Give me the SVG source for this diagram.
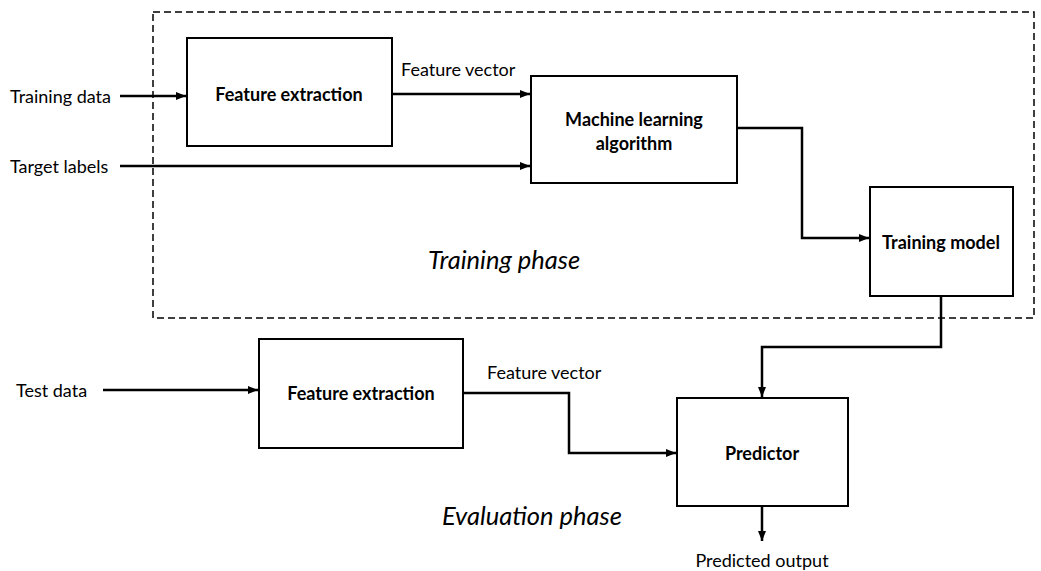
<svg xmlns="http://www.w3.org/2000/svg" width="1041" height="571" viewBox="0 0 1041 571">
<defs>
<marker id="arr" markerUnits="userSpaceOnUse" markerWidth="10" markerHeight="10" viewBox="0 0 10 10" refX="10" refY="5" orient="auto">
<path d="M0,1 L10,5 L0,9 Z" fill="#000"/>
</marker>
<style>
.box{fill:#fff;stroke:#000;stroke-width:2}
.conn{fill:none;stroke:#000;stroke-width:2.5;marker-end:url(#arr)}
.lbl{font-family:Lato,"Open Sans","Liberation Sans",sans-serif;font-size:18px;fill:#000}
.nt{font-family:Lato,"Open Sans","Liberation Sans",sans-serif;font-size:18px;font-weight:bold;fill:#000;text-anchor:middle;dominant-baseline:central}
.ph{font-family:Lato,"Open Sans","Liberation Sans",sans-serif;font-size:25.5px;font-style:italic;fill:#000}
</style>
</defs>
<rect width="1041" height="571" fill="#fff"/>
<g id="training-phase">
<rect x="153" y="12" width="881" height="306" fill="none" stroke="#000" stroke-width="1.5" stroke-dasharray="7,4"/>
<text class="ph" x="428" y="269">Training phase</text>
</g>
<g id="evaluation-phase">
<text class="ph" x="442" y="525">Evaluation phase</text>
</g>
<g id="connectors">
<path class="conn" d="M120,96 H186"/>
<path class="conn" d="M392,94 H530"/>
<path class="conn" d="M120,166 H530"/>
<path class="conn" d="M737,128 H802 V238 H869"/>
<path class="conn" d="M941,296 V347 H762 V397"/>
<path class="conn" d="M103,390 H258"/>
<path class="conn" d="M463,393 H569 V453 H676"/>
<path class="conn" d="M762,506 V541"/>
</g>
<g id="input-training-data"><text class="lbl" x="10" y="103">Training data</text></g>
<g id="input-target-labels"><text class="lbl" x="10" y="173">Target labels</text></g>
<g id="input-test-data"><text class="lbl" x="16" y="397">Test data</text></g>
<g id="label-feature-vector-1"><text class="lbl" x="401" y="76">Feature vector</text></g>
<g id="label-feature-vector-2"><text class="lbl" x="487" y="379">Feature vector</text></g>
<g id="output-predicted"><text class="lbl" x="762" y="567" text-anchor="middle">Predicted output</text></g>
<g id="feature-extraction-1">
<rect class="box" x="187" y="38" width="205" height="108"/>
<text class="nt" x="289" y="94">Feature extraction</text>
</g>
<g id="ml-algorithm">
<rect class="box" x="531" y="76" width="206" height="107"/>
<text class="nt" x="634" y="119">Machine learning</text>
<text class="nt" x="634" y="143">algorithm</text>
</g>
<g id="training-model">
<rect class="box" x="870" y="187" width="143" height="109"/>
<text class="nt" x="941" y="242">Training model</text>
</g>
<g id="feature-extraction-2">
<rect class="box" x="259" y="339" width="204" height="109"/>
<text class="nt" x="361" y="393">Feature extraction</text>
</g>
<g id="predictor">
<rect class="box" x="677" y="398" width="171" height="108"/>
<text class="nt" x="762" y="453">Predictor</text>
</g>
</svg>
